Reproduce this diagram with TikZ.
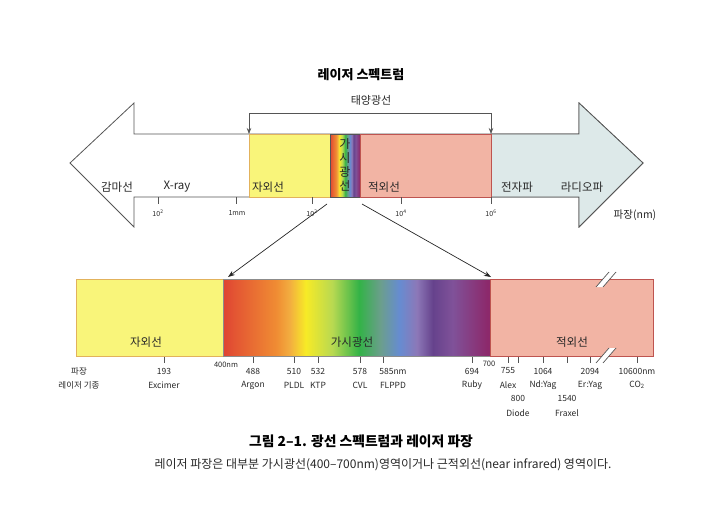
\documentclass[tikz,border=0pt]{standalone}
\usepackage{fontspec}
\setmainfont{Noto Sans CJK KR}
\usetikzlibrary{arrows.meta}
\definecolor{uvyel}{RGB}{249,245,122}
\definecolor{uvbrd}{RGB}{226,178,92}
\definecolor{irsal}{RGB}{242,180,164}
\definecolor{irbrd}{RGB}{190,84,80}
\definecolor{rfblue}{RGB}{221,233,233}
\definecolor{outl}{RGB}{85,85,85}
\definecolor{txt}{RGB}{40,40,40}
\pgfdeclarehorizontalshading{spectrum}{100bp}{rgb(0bp)=(0.87,0.26,0.2); rgb(25bp)=(0.87,0.26,0.2); rgb(27bp)=(0.89,0.33,0.2); rgb(35bp)=(0.94,0.55,0.2); rgb(37.5bp)=(0.95,0.68,0.25); rgb(40.5bp)=(0.97,0.92,0.15); rgb(45.5bp)=(0.72,0.85,0.32); rgb(50.5bp)=(0.2,0.7,0.28); rgb(54.5bp)=(0.42,0.62,0.55); rgb(58bp)=(0.4,0.55,0.82); rgb(61.3bp)=(0.55,0.47,0.72); rgb(64.3bp)=(0.4,0.26,0.55); rgb(68bp)=(0.5,0.32,0.6); rgb(74.5bp)=(0.55,0.16,0.42); rgb(100bp)=(0.55,0.16,0.42)}
\begin{document}
\begin{tikzpicture}[x=1pt,y=-1pt,
  big/.style={inner sep=0pt, text=txt, font=\fontsize{11.5}{13}\selectfont},
  sm/.style={inner sep=0pt, text=txt, font=\fontsize{8.5}{10}\selectfont},
  tiny/.style={inner sep=0pt, text=txt, font=\fontsize{7}{8}\selectfont},
  tk/.style={draw=outl, line width=0.6pt},
  conn/.style={draw=black!85, line width=0.7pt, -{Stealth[length=7pt,width=5pt]}},
  boxn/.style={inner sep=0pt, outer sep=0pt, anchor=north west, line width=0.8pt}]
\useasboundingbox (0,0) rectangle (719,517);
% ---------- top arrow ----------
\path[fill=white, draw=outl, line width=0.8pt] (134,134) -- (579,134) -- (579,103) -- (643,163) -- (579,227) -- (579,197) -- (134,197) -- (134,227) -- (70,163) -- (134,103) -- cycle;
\path[fill=rfblue, draw=outl, line width=0.8pt] (491,134) -- (579,134) -- (579,103) -- (643,163) -- (579,227) -- (579,197) -- (491,197) -- cycle;
\node[boxn, draw=uvbrd, fill=uvyel, minimum width=81pt, minimum height=63pt] (uvtop) at (249,134) {};
\node[boxn, draw=outl, shading=spectrum, minimum width=30pt, minimum height=63pt] (vistop) at (330,134) {};
\node[boxn, draw=irbrd, fill=irsal, minimum width=131pt, minimum height=63pt] (irtop) at (360,134) {};
\node[inner sep=0pt, text=txt, align=center, font=\fontsize{12}{14.2}\selectfont] (vislbl) at (345,165) {가\\시\\광\\선};
\node[big] (gamma) at (117,187) {감마선};
\node[big] (xray) at (177,187) {X-ray};
\node[big] (uvlbl) at (268,187) {자외선};
\node[big] (irlbl) at (384,187) {적외선};
\node[big] (em) at (517,187) {전자파};
\node[big] (radio) at (582,187) {라디오파};
% ticks
\foreach \x/\n in {158/t1,236/t2,312/t3,401/t4,491/t5} {\draw[tk] (\x,197) -- (\x,204) coordinate (\n);}
\node[tiny] (l1) at (158,213) {10\textsuperscript{2}};
\node[tiny] (l2) at (237,213) {1mm};
\node[tiny] (l3) at (312,213) {10\textsuperscript{2}};
\node[tiny] (l4) at (401,213) {10\textsuperscript{4}};
\node[tiny] (l5) at (491,213) {10\textsuperscript{6}};
\node[inner sep=0pt, text=txt, font=\fontsize{10.5}{12}\selectfont] (wl) at (635,215) {파장(nm)};
% title and sunlight bracket
\node[inner sep=0pt, font=\bfseries\fontsize{13}{15}\selectfont] (title) at (361,75) {레이저 스펙트럼};
\node[inner sep=0pt, text=txt, font=\fontsize{11}{13}\selectfont] (sun) at (371,100) {태양광선};
\coordinate (sunA) at (249,134);
\coordinate (sunB) at (491,134);
\draw[draw=outl, line width=0.7pt, {Stealth[length=6pt,width=4.5pt]}-{Stealth[length=6pt,width=4.5pt]}] (sunA) -- ++(0,-21) -| (sunB);
% ---------- bottom bar ----------
\node[boxn, draw=uvbrd, fill=uvyel, minimum width=147pt, minimum height=77pt] (uvbot) at (76,279) {};
\node[boxn, draw=black!45, shading=spectrum, minimum width=267pt, minimum height=77pt] (visbot) at (223,279) {};
\node[boxn, draw=irbrd, fill=irsal, minimum width=163pt, minimum height=77pt] (irbot) at (490,279) {};
\node[big] (uvb) at (146,342) {자외선};
\node[big] (visb) at (352,342) {가시광선};
\node[big] (irb) at (572,342) {적외선};
% break marks
\fill[white] (596,287) -- (609,272) -- (616,272) -- (603,287) -- cycle;
\draw[outl, line width=0.7pt] (596,287) -- (609,272) (603,287) -- (616,272);
\fill[white] (596,363) -- (609,348) -- (616,348) -- (603,363) -- cycle;
\draw[outl, line width=0.7pt] (596,363) -- (609,348) (603,363) -- (616,348);
% connectors
\coordinate (c1) at (327,204);
\coordinate (c2) at (228,277);
\coordinate (c3) at (362,204);
\coordinate (c4) at (491,277);
\draw[conn] (c1) -- (c2);
\draw[conn] (c3) -- (c4);
% bottom ticks
\foreach \x in {164,253,294,318,360,383,472,508,518,543,567,590,637} {\draw[tk] (\x,357) -- (\x,363);}
\node[sm] (h1) at (79,371) {파장};
\node[sm] (h2) at (79,385) {레이저 기종};
\node[inner sep=0pt, text=txt, font=\fontsize{7.5}{8}\selectfont] (n400) at (226,365) {400nm};
\node[inner sep=0pt, text=txt, font=\fontsize{7.5}{8}\selectfont] (n700) at (489,364) {700};
\foreach \x/\a/\b/\n in {164/193/Excimer/p1, 253/488/Argon/p2, 294/510/PLDL/p3, 318/532/KTP/p4, 360/578/CVL/p5, 393/585nm/FLPPD/p6, 472/694/Ruby/p7, 508/755/Alex/p8, 543/1064/Nd:Yag/p9, 590/2094/Er:Yag/p10} {
  \node[sm] (\n a) at (\x,371) {\a};
  \node[sm] (\n b) at (\x,385) {\b};
}
\node[sm] (p11a) at (637,371) {10600nm};
\node[sm] (p11b) at (637,385) {CO\textsubscript{2}};
\node[sm] (p12a) at (518,398) {800};
\node[sm] (p12b) at (518,413) {Diode};
\node[sm] (p13a) at (567,398) {1540};
\node[sm] (p13b) at (567,413) {Fraxel};
% caption
\node[inner sep=0pt, font=\bfseries\fontsize{13.8}{15}\selectfont] (cap1) at (361,441) {그림 2–1. 광선 스펙트럼과 레이저 파장};
\node[inner sep=0pt, text=txt, font=\fontsize{12}{14}\selectfont] (cap2) at (383,465) {레이저 파장은 대부분 가시광선(400–700nm)영역이거나 근적외선(near infrared) 영역이다.};
\end{tikzpicture}
\end{document}
